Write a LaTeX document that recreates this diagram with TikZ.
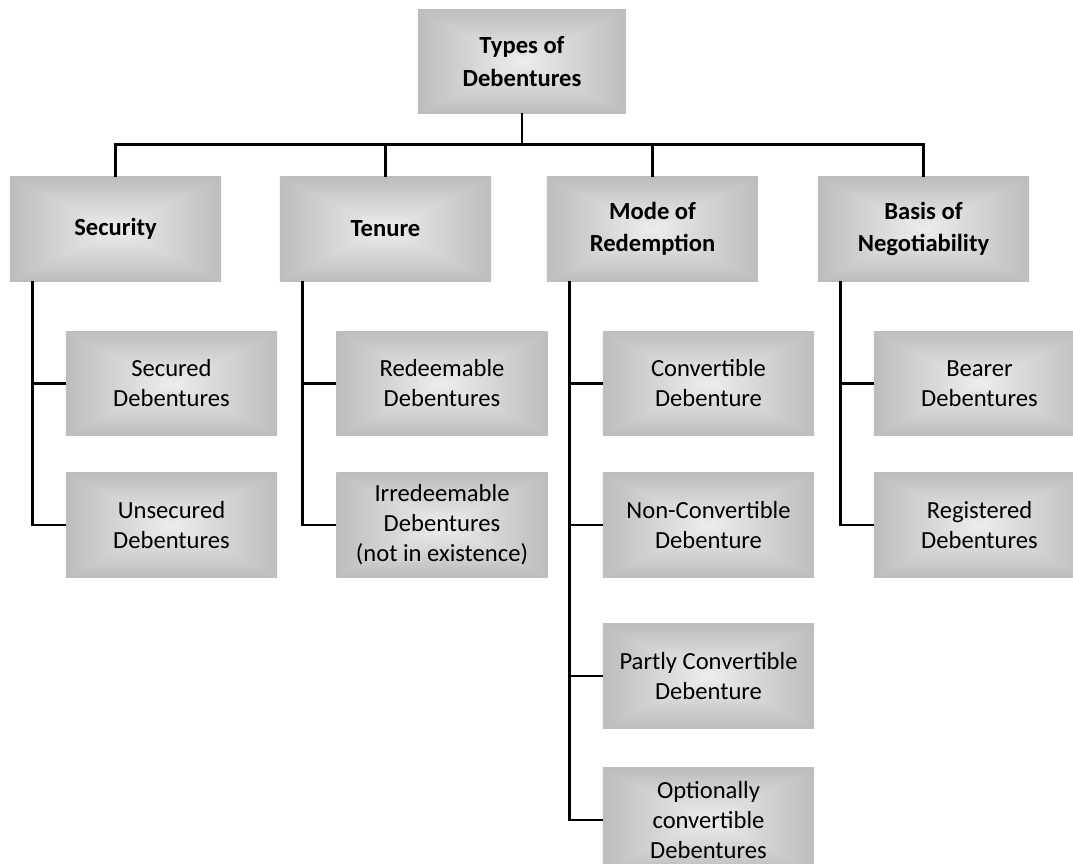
\documentclass[tikz,border=0pt]{standalone}
\usepackage{fontspec}
\setmainfont{Carlito}
\usepackage{tikz}

% box fill: light centre, grey rim
\pgfdeclarefunctionalshading{pyramid}{\pgfpoint{0bp}{0bp}}{\pgfpoint{100bp}{100bp}}{}{
  50 sub abs exch 50 sub abs
  2 copy lt {exch} if pop
  25 div dup 1 gt {pop 1} if
  -0.19 mul 0.93 add dup dup
}

\begin{document}
\begin{tikzpicture}[
  x=0.025cm, y=-0.025cm,
  head/.style={shade, shading=pyramid, minimum width=5.2cm, minimum height=2.575cm, inner sep=0pt, align=center, font=\fontsize{17.5}{23.5}\selectfont\bfseries},
  group/.style={shade, shading=pyramid, minimum width=5.275cm, minimum height=2.6cm, inner sep=0pt, align=center, font=\fontsize{17.5}{22.5}\selectfont\bfseries},
  kind/.style={shade, shading=pyramid, minimum width=5.275cm, minimum height=2.6cm, inner sep=0pt, align=center, font=\fontsize{17.5}{21.3}\selectfont},
  link/.style={line width=1.8pt},
]
\useasboundingbox (0,0) rectangle (1073,863);
\clip (0,0) rectangle (1073,863);
\node[head] (types) at (522,61.5) {Types of\\Debentures};
% categories
\node[group] (security) at (115.5,229) {Security};
\node[group] (tenure) at (385.5,229) {Tenure};
\node[group] (mode) at (652.5,229) {Mode of\\Redemption};
\node[group] (basis) at (923.5,229) {Basis of\\Negotiability};
% kinds
\node[kind] (secured) at (171.5,383.5) {Secured\\Debentures};
\node[kind] (unsecured) at (171.5,525) {Unsecured\\Debentures};
\node[kind] (redeem) at (442,383.5) {Redeemable\\Debentures};
\node[kind] (irredeem) at (442,525) {Irredeemable\\Debentures\\(not in existence)};
\node[kind] (conv) at (708.5,383.5) {Convertible\\Debenture};
\node[kind] (nonconv) at (708.5,525) {Non-Convertible\\Debenture};
\node[kind] (partly) at (708.5,676) {Partly Convertible\\Debenture};
\node[kind] (option) at (708.5,820) {Optionally\\convertible\\Debentures};
\node[kind] (bearer) at (979.5,383.5) {Bearer\\Debentures};
\node[kind] (registered) at (979.5,525) {Registered\\Debentures};
% tree lines
\foreach \g in {security,tenure,mode,basis}
  \draw[link] (types.south) -- ++(0,31) -| (\g.north);
\foreach \g/\k in {security/secured,security/unsecured,tenure/redeem,tenure/irredeem,
    mode/conv,mode/nonconv,mode/partly,mode/option,basis/bearer,basis/registered}
  \draw[link] (\g.south west) ++(23,0) |- (\k.west);
\end{tikzpicture}
\end{document}
